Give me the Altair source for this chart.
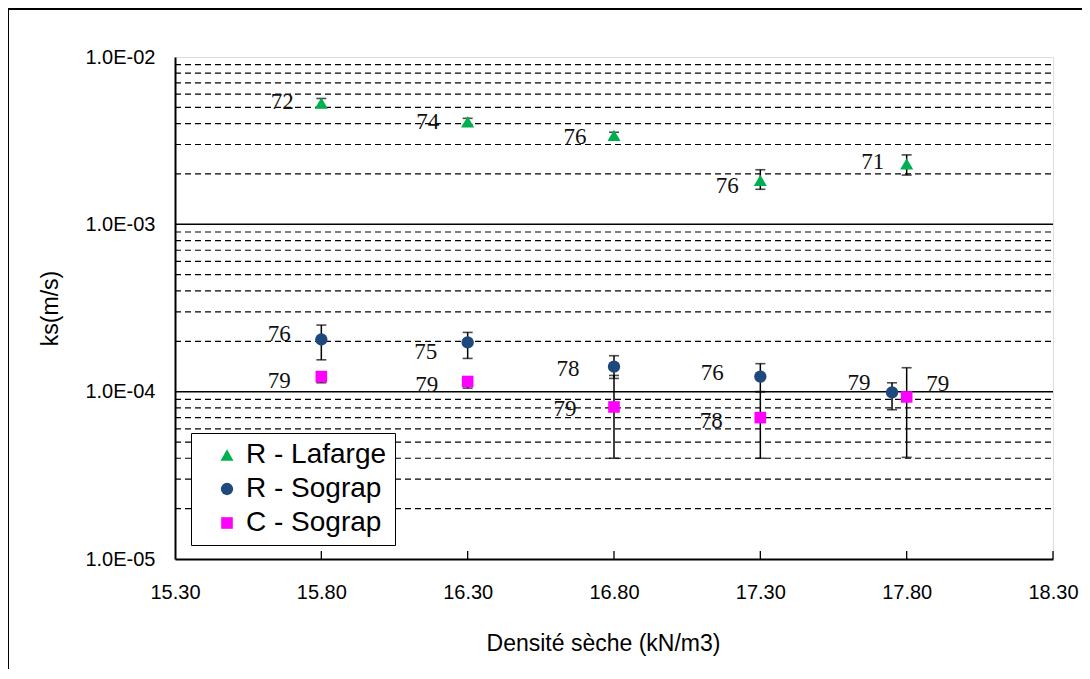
import altair as alt
import pandas as pd

# ---------------- data ----------------
series_names = ["R - Lafarge", "R - Sograp", "C - Sograp"]
series_colors = ["#00B050", "#1F497D", "#FF00FF"]
series_shapes = ["triangle-up", "circle", "square"]

laf_x = [15.80, 16.30, 16.80, 17.30, 17.80]
laf_y = [5.3e-3, 4.1e-3, 3.4e-3, 1.83e-3, 2.3e-3]
laf_lo = [5.0e-3, 3.95e-3, 3.25e-3, 1.62e-3, 1.97e-3]
laf_hi = [5.65e-3, 4.3e-3, 3.55e-3, 2.12e-3, 2.6e-3]
laf_lab = ["72", "74", "76", "76", "71"]

rs_x = [15.80, 16.30, 16.80, 17.30, 17.75]
rs_y = [2.05e-4, 1.97e-4, 1.41e-4, 1.23e-4, 9.9e-5]
rs_lo = [1.55e-4, 1.58e-4, 1.2e-4, 1.0e-4, 7.8e-5]
rs_hi = [2.5e-4, 2.26e-4, 1.64e-4, 1.47e-4, 1.13e-4]
rs_lab = ["76", "75", "78", "76", "79"]

cs_x = [15.80, 16.30, 16.80, 17.30, 17.80]
cs_y = [1.23e-4, 1.15e-4, 8.1e-5, 7.0e-5, 9.3e-5]
cs_lo = [1.13e-4, 1.05e-4, 4.0e-5, 4.0e-5, 4.05e-5]
cs_hi = [1.3e-4, 1.2e-4, 1.25e-4, 1.0e-4, 1.39e-4]
cs_lab = ["79", "79", "79", "78", "79"]

# label offsets (pixels) from each point
laf_dx = [-39, -40, -39, -33, -34]
laf_dy = [-1, 0, 2, 6, -2]
rs_dx = [-42, -42, -46, -48, -33]
rs_dy = [-5, 10, 2, -4, -9]
cs_dx = [-42, -41, -49, -49, 31]
cs_dy = [4, 3, 2, 3, -13]

x_ticks = [15.30, 15.80, 16.30, 16.80, 17.30, 17.80, 18.30]
y_ticks = [1e-5, 1e-4, 1e-3, 1e-2]
major_grid = [1e-4, 1e-3]
minor_mult = [2, 3, 4, 5, 6, 7, 8, 9]
decades = [1e-5, 1e-4, 1e-3]

rows = []
for name, xs_, ys_, los, his, labs, dxs, dys in [
    (series_names[0], laf_x, laf_y, laf_lo, laf_hi, laf_lab, laf_dx, laf_dy),
    (series_names[1], rs_x, rs_y, rs_lo, rs_hi, rs_lab, rs_dx, rs_dy),
    (series_names[2], cs_x, cs_y, cs_lo, cs_hi, cs_lab, cs_dx, cs_dy),
]:
    for i in range(len(xs_)):
        rows.append(dict(series=name, x=xs_[i], y=ys_[i], lo=los[i], hi=his[i],
                         label=labs[i], dx=dxs[i], dy=dys[i]))
df = pd.DataFrame(rows)

minor_df = pd.DataFrame({"v": [m * d for d in decades for m in minor_mult]})
major_df = pd.DataFrame({"v": major_grid})
xtick_df = pd.DataFrame({"t": x_ticks[1:]})

W, H = 878, 502
SANS = "Liberation Sans, Arial, sans-serif"
SERIF = "Liberation Serif, Times New Roman, serif"

xs = alt.Scale(domain=[15.3, 18.3], nice=False, zero=False)
ys = alt.Scale(type="log", domain=[1e-5, 1e-2], nice=False)

base = alt.Chart(df)

minor = alt.Chart(minor_df).mark_rule(color="black", strokeDash=[6, 4], strokeWidth=1.2).encode(
    y=alt.Y("v:Q", scale=ys), x=alt.value(0), x2=alt.value(W))
major = alt.Chart(major_df).mark_rule(color="black", strokeWidth=1.5).encode(
    y=alt.Y("v:Q", scale=ys), x=alt.value(0), x2=alt.value(W))
xtk = alt.Chart(xtick_df).mark_rule(color="black", strokeWidth=1.3).encode(
    x=alt.X("t:Q", scale=xs), y=alt.value(H), y2=alt.value(H - 8))

err = base.mark_rule(color="black", strokeWidth=1.5).encode(
    x=alt.X("x:Q", scale=xs), y=alt.Y("lo:Q", scale=ys), y2="hi:Q")
cap_lo = base.mark_tick(color="black", orient="horizontal", size=10, thickness=1.6).encode(
    x=alt.X("x:Q", scale=xs), y=alt.Y("lo:Q", scale=ys))
cap_hi = base.mark_tick(color="black", orient="horizontal", size=10, thickness=1.6).encode(
    x=alt.X("x:Q", scale=xs), y=alt.Y("hi:Q", scale=ys))

points = base.mark_point(filled=True, opacity=1, strokeWidth=0).encode(
    x=alt.X("x:Q", scale=xs,
            axis=alt.Axis(values=x_ticks, format=".2f", grid=False, ticks=False,
                          domainColor="black", domainWidth=2,
                          labelFont=SANS, labelFontSize=20, labelColor="black",
                          labelPadding=23, labelFlush=False,
                          title="Densité sèche (kN/m3)", titleFont=SANS,
                          titleFontSize=23, titleFontWeight="normal", titleColor="black",
                          titleX=428, titleY=84, titleBaseline="middle")),
    y=alt.Y("y:Q", scale=ys,
            axis=alt.Axis(values=y_ticks, grid=False, ticks=False,
                          labelExpr="'1.0E-0' + round(-log(datum.value)/LN10)",
                          domainColor="black", domainWidth=2,
                          labelFont=SANS, labelFontSize=20, labelColor="black",
                          labelPadding=20, labelFlush=False,
                          title="ks(m/s)", titleFont=SANS, titleFontSize=23,
                          titleFontWeight="normal", titleColor="black",
                          titleX=-125, titleY=251, titleBaseline="middle")),
    color=alt.Color("series:N", scale=alt.Scale(domain=series_names, range=series_colors),
                    legend=alt.Legend(title=None, orient="none", legendX=16, legendY=376,
                                      strokeColor="black", fillColor="white",
                                      labelFont=SANS, labelFontSize=28, labelColor="black",
                                      symbolSize=100, symbolStrokeWidth=0,
                                      padding=8, symbolOffset=14, labelOffset=5,
                                      rowPadding=6, labelLimit=400)),
    shape=alt.Shape("series:N", scale=alt.Scale(domain=series_names, range=series_shapes)),
    size=alt.Size("series:N", scale=alt.Scale(domain=series_names, range=[170, 135, 140]),
                  legend=None),
)

# one text layer per annotation so that each keeps its own pixel offset
label_layers = []
for i, r in df.iterrows():
    label_layers.append(
        alt.Chart(df.iloc[[i]]).mark_text(font=SERIF, fontSize=23, color="#111111",
                                         dx=int(r["dx"]), dy=int(r["dy"])).encode(
            x=alt.X("x:Q", scale=xs), y=alt.Y("y:Q", scale=ys), text="label:N"))

frame_top = alt.Chart(pd.DataFrame({"a": [0]})).mark_rule(color="black", strokeWidth=2).encode(
    x=alt.value(-167), x2=alt.value(W + 40), y=alt.value(-48))
frame_left = alt.Chart(pd.DataFrame({"a": [0]})).mark_rule(color="black", strokeWidth=2).encode(
    x=alt.value(-167), y=alt.value(-48), y2=alt.value(H + 130))

chart = alt.layer(minor, major, xtk, err, cap_lo, cap_hi, points, *label_layers,
                  frame_top, frame_left).properties(
    width=W, height=H,
    autosize=alt.AutoSizeParams(type="none"),
    padding={"left": 167, "top": 49, "right": 29, "bottom": 110},
).configure_view(stroke="#888888", strokeWidth=1.5).configure(background="white")

chart.save("out.html", embed_options={"renderer": "svg", "actions": False})
